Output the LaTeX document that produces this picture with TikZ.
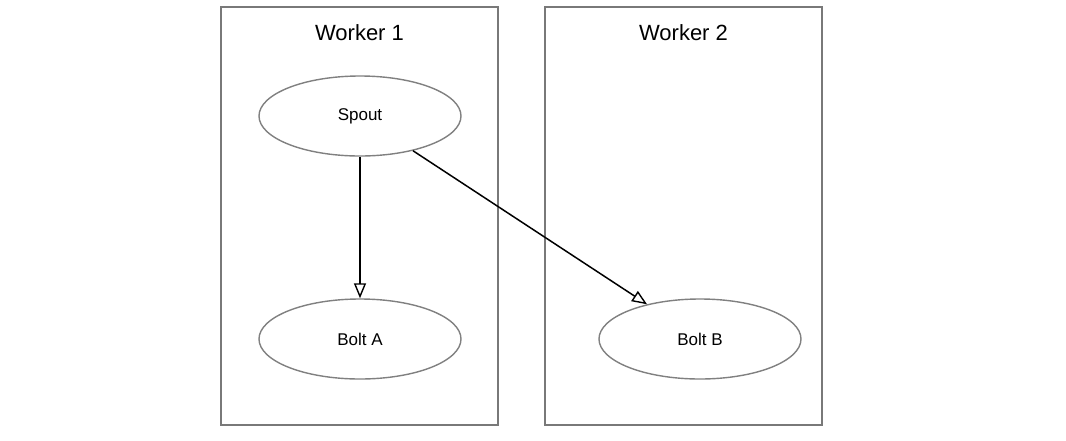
\documentclass[tikz,border=0pt]{standalone}
\usepackage{fontspec}
\setmainfont{Liberation Sans}
\usetikzlibrary{arrows.meta,shapes.geometric}
\begin{document}
\begin{tikzpicture}[x=1pt,y=-1pt,
  cluster/.style={draw=gray!95!black,line width=1.4pt},
  proc/.style={draw=gray,line width=1.4pt,ellipse,minimum width=202pt,minimum height=80pt,inner sep=0pt,font=\fontsize{17}{20}\selectfont},
  title/.style={font=\fontsize{22}{26}\selectfont},
  flow/.style={draw=black,line width=1.5pt,-{Triangle[open,length=15pt,width=12pt,line width=1.4pt]}}
]
\useasboundingbox (0,0) rectangle (1066,440);
\fill[white] (0,0) rectangle (1066,440);
\draw[cluster] (221,7) rectangle (498,425);
\draw[cluster] (545,7) rectangle (822,425);
\node[title] (w1) at (359.5,33) {Worker 1};
\node[title] (w2) at (683.5,33) {Worker 2};
\node[proc] (spout) at (360,116) {Spout};
\node[proc] (bolta) at (360,339) {Bolt A};
\node[proc] (boltb) at (700,339) {Bolt B};
\draw[flow] (spout) -- (bolta);
\draw[flow] (spout) -- (boltb);
\end{tikzpicture}
\end{document}
